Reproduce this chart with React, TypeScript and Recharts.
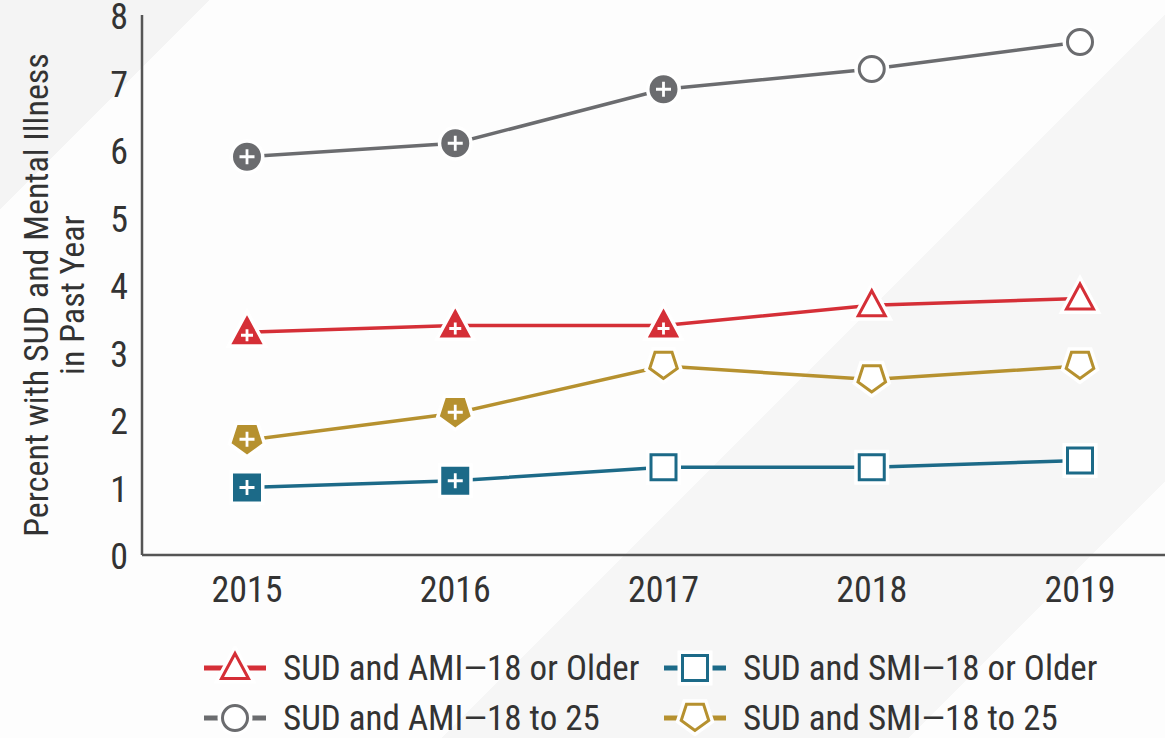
import React from "react";
import { CartesianGrid, Line, LineChart, XAxis, YAxis } from "recharts";

const years = ["2015", "2016", "2017", "2018", "2019"];
const amiAdults = [3.3, 3.4, 3.4, 3.7, 3.8];
const amiYoung = [5.9, 6.1, 6.9, 7.2, 7.6];
const smiAdults = [1.0, 1.1, 1.3, 1.3, 1.4];
const smiYoung = [1.7, 2.1, 2.8, 2.6, 2.8];
// filled marker with "+" = significant difference vs 2019
const amiAdultsSig = [true, true, true, false, false];
const amiYoungSig = [true, true, true, false, false];
const smiAdultsSig = [true, true, false, false, false];
const smiYoungSig = [true, true, false, false, false];
const yTicks = [0, 1, 2, 3, 4, 5, 6, 7, 8];

const FONT = "'Liberation Sans Narrow', 'Arial Narrow', 'Roboto Condensed', sans-serif";
const TEXT = "#333333";

const RED = "#d52f37";
const GRAY = "#6b6c6f";
const BLUE = "#1c6a88";
const GOLD = "#b6912f";

type Shape = "triangle" | "square" | "circle" | "pentagon";

const data = years.map((year, i) => ({
  year,
  amiAdults: amiAdults[i],
  amiYoung: amiYoung[i],
  smiAdults: smiAdults[i],
  smiYoung: smiYoung[i],
}));

function outline(shape: Shape, cx: number, cy: number, size: number, extra: any) {
  if (shape === "circle") return <circle cx={cx} cy={cy} r={size} {...extra} />;
  if (shape === "square")
    return <rect x={cx - size} y={cy - size} width={size * 2} height={size * 2} {...extra} />;
  if (shape === "triangle") {
    const pts = `${cx},${cy - size - 2} ${cx + size + 1},${cy + size - 2} ${cx - size - 1},${cy + size - 2}`;
    return <polygon points={pts} strokeLinejoin="miter" {...extra} />;
  }
  const R = size + 2;
  const c = cy - 2;
  const pts = [90, 162, 234, 306, 18]
    .map((a) => {
      const r = (a * Math.PI) / 180;
      return `${cx + R * Math.cos(r)},${c + R * Math.sin(r)}`;
    })
    .join(" ");
  return <polygon points={pts} strokeLinejoin="miter" {...extra} />;
}

function Marker({ cx, cy, shape, color, filled }: { cx: number; cy: number; shape: Shape; color: string; filled: boolean }) {
  const size = 13;
  const py = shape === "triangle" ? cy + 3 : shape === "pentagon" ? cy - 1 : cy;
  const arm = shape === "triangle" ? 6 : 7.5;
  return (
    <g>
      {outline(shape, cx, cy, size, { fill: "#fff", stroke: "#fff", strokeWidth: 9 })}
      {filled
        ? outline(shape, cx, cy, size, { fill: color, stroke: color, strokeWidth: 2 })
        : outline(shape, cx, cy, size - 0.5, { fill: "#fff", stroke: color, strokeWidth: 3 })}
      {filled && (
        <path
          d={`M${cx - arm},${py} H${cx + arm} M${cx},${py - arm} V${py + arm}`}
          stroke="#fff"
          strokeWidth={2.8}
        />
      )}
    </g>
  );
}

function makeDot(shape: Shape, color: string, sig: boolean[]) {
  return (props: any) => (
    <Marker key={`${shape}-${props.index}`} cx={props.cx} cy={props.cy} shape={shape} color={color} filled={sig[props.index]} />
  );
}

function YTick({ x, y, payload }: any) {
  return (
    <text x={x} y={y + 14} textAnchor="end" fontSize={36} fontFamily={FONT} fill={TEXT}>
      {payload.value}
    </text>
  );
}

function XTick({ x, y, payload }: any) {
  return (
    <text x={x} y={y + 45} textAnchor="middle" fontSize={36} fontFamily={FONT} fill={TEXT}>
      {payload.value}
    </text>
  );
}

function YLabel() {
  return (
    <g fontSize={34} fontFamily={FONT} fill={TEXT} textAnchor="middle">
      <text x={48} y={295} transform="rotate(-90, 48, 295)">
        Percent with SUD and Mental Illness
      </text>
      <text x={84} y={295} transform="rotate(-90, 84, 295)">
        in Past Year
      </text>
    </g>
  );
}

const legendItems: { label: string; shape: Shape; color: string; left: number; top: number }[] = [
  { label: "SUD and AMI\u201418 or Older", shape: "triangle", color: RED, left: 202, top: 668 },
  { label: "SUD and SMI\u201418 or Older", shape: "square", color: BLUE, left: 662, top: 668 },
  { label: "SUD and AMI\u201418 to 25", shape: "circle", color: GRAY, left: 202, top: 718 },
  { label: "SUD and SMI\u201418 to 25", shape: "pentagon", color: GOLD, left: 662, top: 718 },
];

function ChartLegend() {
  return (
    <>
      {legendItems.map((it) => (
        <div
          key={it.label}
          style={{
            position: "absolute",
            left: it.left,
            top: it.top - 22,
            height: 44,
            display: "flex",
            alignItems: "center",
            fontFamily: FONT,
            fontSize: 35,
            color: TEXT,
            whiteSpace: "nowrap",
          }}
        >
          <svg width={66} height={44} style={{ marginRight: 15 }}>
            <line x1={2} x2={64} y1={22} y2={22} stroke={it.color} strokeWidth={5} />
            <Marker cx={33} cy={22} shape={it.shape} color={it.color} filled={false} />
          </svg>
          <span>{it.label}</span>
        </div>
      ))}
    </>
  );
}

export default function App() {
  return (
    <div
      style={{
        position: "absolute",
        left: 0,
        top: 0,
        width: 1165,
        height: 738,
        overflow: "hidden",
        background:
          "linear-gradient(135deg, #f4f4f4 0%, #f4f4f4 11%, #fdfdfd 11%, #fdfdfd 62%, #f6f6f6 62%, #f6f6f6 86.5%, #fdfdfd 86.5%)",
      }}
    >
      <LineChart width={1165} height={738} data={data} margin={{ top: 15, right: 0, bottom: 0, left: 0 }}>
        <CartesianGrid horizontal={false} vertical={false} />
        <XAxis
          dataKey="year"
          height={183}
          padding={{ left: 105, right: 85 }}
          tickLine={false}
          tickSize={0}
          tick={<XTick />}
          axisLine={{ stroke: "#555", strokeWidth: 2.5 }}
          interval={0}
        />
        <YAxis
          width={142}
          domain={[0, 8]}
          ticks={yTicks}
          tickLine={false}
          tickSize={0}
          tickMargin={14}
          tick={<YTick />}
          axisLine={{ stroke: "#555", strokeWidth: 2.5 }}
        />
        <Line dataKey="amiYoung" stroke={GRAY} strokeWidth={3.5} isAnimationActive={false} dot={makeDot("circle", GRAY, amiYoungSig)} activeDot={false} />
        <Line dataKey="amiAdults" stroke={RED} strokeWidth={3.5} isAnimationActive={false} dot={makeDot("triangle", RED, amiAdultsSig)} activeDot={false} />
        <Line dataKey="smiYoung" stroke={GOLD} strokeWidth={3.5} isAnimationActive={false} dot={makeDot("pentagon", GOLD, smiYoungSig)} activeDot={false} />
        <Line dataKey="smiAdults" stroke={BLUE} strokeWidth={3.5} isAnimationActive={false} dot={makeDot("square", BLUE, smiAdultsSig)} activeDot={false} />
      </LineChart>
      <svg width={120} height={600} style={{ position: "absolute", left: 0, top: 0 }}>
        <YLabel />
      </svg>
      <ChartLegend />
    </div>
  );
}
